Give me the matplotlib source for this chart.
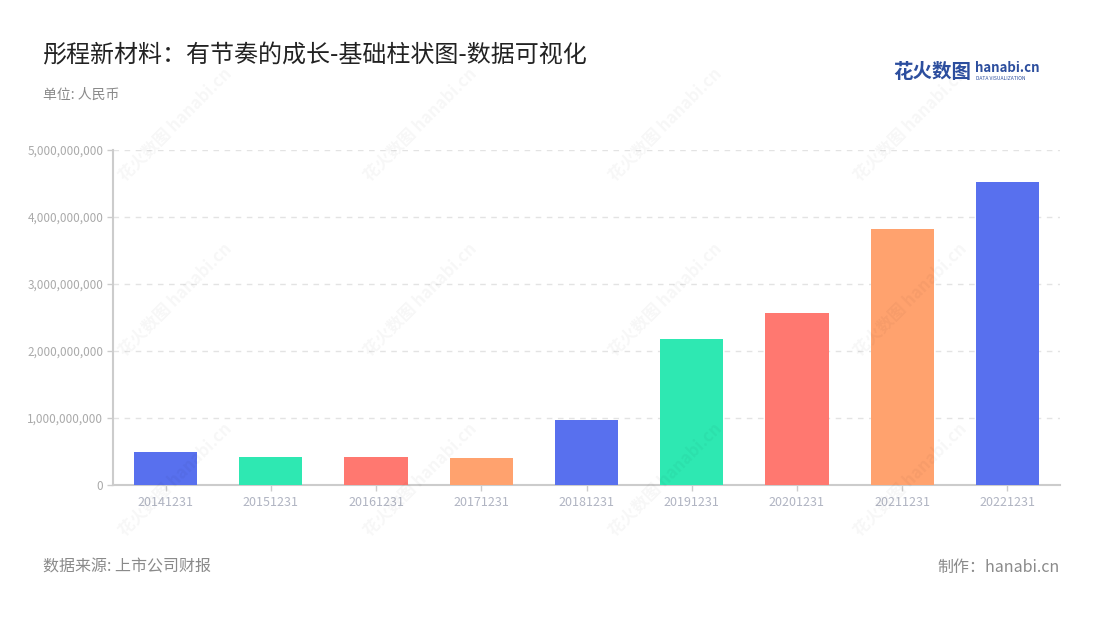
import matplotlib
matplotlib.use("Agg")
import matplotlib.pyplot as plt
from matplotlib.ticker import FuncFormatter, MultipleLocator

plt.rcParams['font.family'] = ['Noto Sans CJK SC', 'DejaVu Sans']

title = "彤程新材料：有节奏的成长-基础柱状图-数据可视化"
subtitle = "单位: 人民币"
source = "数据来源: 上市公司财报"
credit = "制作：hanabi.cn"

categories = ["20141231", "20151231", "20161231", "20171231", "20181231",
              "20191231", "20201231", "20211231", "20221231"]
values = [0.488e9, 0.413e9, 0.418e9, 0.398e9, 0.966e9,
          2.179e9, 2.567e9, 3.821e9, 4.522e9]
palette = ["#5870EE", "#2EE8B2", "#FF7870", "#FFA26E"]
colors = [palette[i % 4] for i in range(len(categories))]

W, H = 1100, 620
fig = plt.figure(figsize=(W / 100, H / 100), dpi=100)
fig.patch.set_facecolor("white")

# watermarks (decoration)
wm_cols = [175, 420, 665, 910]
wm_rows = [125, 300, 480]
for yy in wm_rows:
    for xx in wm_cols:
        fig.text(xx / W, 1 - yy / H, "花火数图 hanabi.cn", rotation=45,
                 ha="center", va="center", fontsize=12, color="#000000",
                 alpha=0.035, fontweight="bold", zorder=0)

ax = fig.add_axes([113 / W, (H - 485) / H, (1060 - 113) / W, (485 - 150) / H])
ax.set_facecolor("none")
x = list(range(len(categories)))
ax.bar(x, values, width=0.6, color=colors, zorder=3)
ax.set_xlim(-0.5, len(categories) - 0.5)
ax.set_ylim(0, 5e9)
ax.yaxis.set_major_locator(MultipleLocator(1e9))
ax.yaxis.set_major_formatter(FuncFormatter(lambda v, p: f"{int(v):,}"))
ax.set_xticks(x)
ax.set_xticklabels(categories)

for s in ["top", "right"]:
    ax.spines[s].set_visible(False)
for s in ["left", "bottom"]:
    ax.spines[s].set_color("#cccccc")
    ax.spines[s].set_linewidth(1.5)

ax.grid(axis="y", color="#e3e3e3", linestyle=(0, (4, 4)), linewidth=1, zorder=0)
ax.tick_params(axis="y", colors="#cccccc", labelcolor="#aaaaaa", labelsize=8.5,
               length=4, width=1, pad=3)
ax.tick_params(axis="x", colors="#cccccc", labelcolor="#b0b4c2", labelsize=9,
               length=4, width=1, pad=4)

# titles
fig.text(43 / W, 1 - 55 / H, title, fontsize=17.3, color="#222222",
         ha="left", va="center")
fig.text(43 / W, 1 - 95 / H, subtitle, fontsize=10, color="#8a8a8a",
         ha="left", va="center")

# logo
fig.text(893 / W, 1 - 72 / H, "花火数图", fontsize=14, color="#2C4E9E",
         fontweight="bold", ha="left", va="center")
fig.text(975 / W, 1 - 68 / H, "hanabi.cn", fontsize=9.5, color="#2C4E9E",
         fontweight="bold", ha="left", va="center")
fig.text(976 / W, 1 - 79 / H, "DATA VISUALIZATION", fontsize=3.6, color="#2C4E9E",
         ha="left", va="center")

# footer
fig.text(43 / W, 1 - 567 / H, source, fontsize=11.5, color="#8a8a8a",
         ha="left", va="center")
fig.text(1060 / W, 1 - 567 / H, credit, fontsize=11.5, color="#8a8a8a",
         ha="right", va="center")

fig.savefig("out.png", dpi=100, facecolor="white")
